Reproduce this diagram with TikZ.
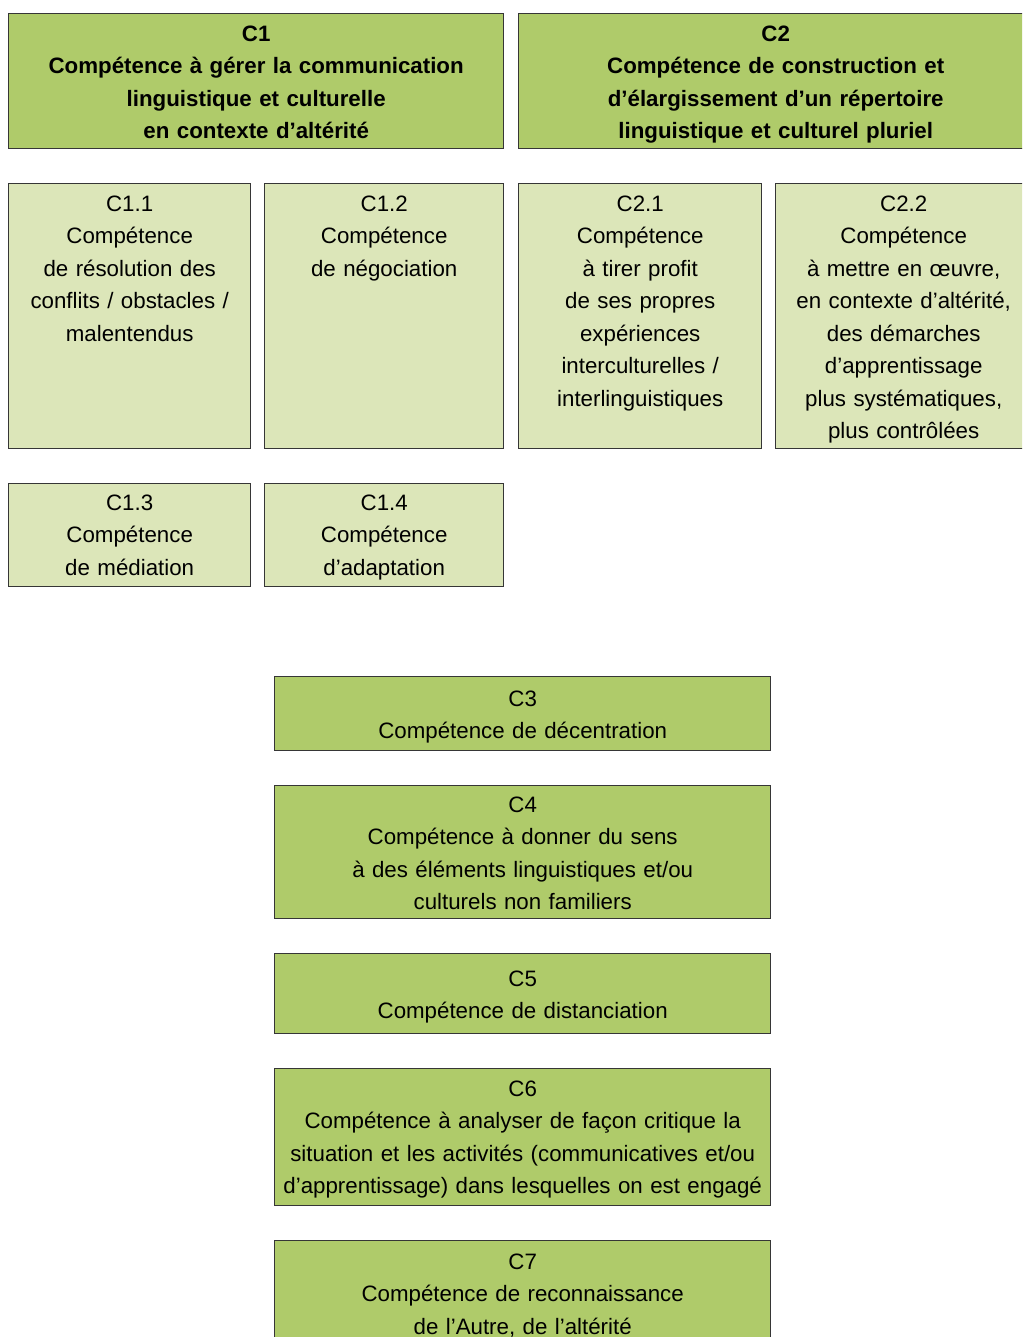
\documentclass[tikz,border=0pt]{standalone}
\usepackage{fontspec}
\setmainfont{Liberation Sans}
\usepackage{xcolor}
\definecolor{comp-main}{HTML}{AFCB6A}
\definecolor{comp-light}{HTML}{DCE6B9}
\definecolor{comp-line}{HTML}{363636}
\tikzset{
  compbox/.style={draw=comp-line, line width=1.4pt, inner sep=0pt, anchor=north west,
    align=center, font=\fontsize{22.3}{32.5}\selectfont},
  mainbox/.style={compbox, fill=comp-main},
  headbox/.style={mainbox, font=\fontsize{22.3}{32.5}\selectfont\bfseries},
  subbox/.style={compbox, fill=comp-light},
}

\begin{document}
\begin{tikzpicture}[x=1pt, y=-1pt]

    % Frame
    \useasboundingbox (0, 0) rectangle (1022, 1337);
    \clip (0, 0) rectangle (1022, 1337);

    % Main competences
    \node[headbox, text width=495pt, text height=27.5pt, text depth=107.5pt] (c1) at (8, 13)
      {C1\\Compétence à gérer la communication\\linguistique et culturelle\\en contexte d’altérité};
    \node[headbox, text width=514pt, text height=27.5pt, text depth=107.5pt] (c2) at (518, 13)
      {C2\\Compétence de construction et\\d’élargissement d’un répertoire\\linguistique et culturel pluriel};

    % Sub-competences
    \node[subbox, text width=242pt, text height=27.5pt, text depth=237.5pt] (c11) at (8, 183)
      {C1.1\\Compétence\\de résolution des\\conflits / obstacles /\\malentendus};
    \node[subbox, text width=239pt, text height=27.5pt, text depth=237.5pt] (c12) at (264, 183)
      {C1.2\\Compétence\\de négociation};
    \node[subbox, text width=243pt, text height=27.5pt, text depth=237.5pt] (c21) at (518, 183)
      {C2.1\\Compétence\\à tirer profit\\de ses propres\\expériences\\interculturelles /\\interlinguistiques};
    \node[subbox, text width=256pt, text height=27.5pt, text depth=237.5pt] (c22) at (775, 183)
      {C2.2\\Compétence\\à mettre en œuvre,\\en contexte d’altérité,\\des démarches\\d’apprentissage\\plus systématiques,\\plus contrôlées};
    \node[subbox, text width=242pt, text height=26.5pt, text depth=76.5pt] (c13) at (8, 483)
      {C1.3\\Compétence\\de médiation};
    \node[subbox, text width=239pt, text height=26.5pt, text depth=76.5pt] (c14) at (264, 483)
      {C1.4\\Compétence\\d’adaptation};

    % Other competences
    \node[mainbox, text width=496pt, text height=29.5pt, text depth=44.5pt] (c3) at (274, 676)
      {C3\\Compétence de décentration};
    \node[mainbox, text width=496pt, text height=26.5pt, text depth=106.5pt] (c4) at (274, 785)
      {C4\\Compétence à donner du sens\\à des éléments linguistiques et/ou\\culturels non familiers};
    \node[mainbox, text width=496pt, text height=32.5pt, text depth=47.5pt] (c5) at (274, 953)
      {C5\\Compétence de distanciation};
    \node[mainbox, text width=496pt, text height=27.5pt, text depth=109.5pt] (c6) at (274, 1068)
      {C6\\Compétence à analyser de façon critique la\\situation et les activités (communicatives et/ou\\d’apprentissage) dans lesquelles on est engagé};
    \node[mainbox, text width=496pt, text height=28.5pt, text depth=91.5pt] (c7) at (274, 1240)
      {C7\\Compétence de reconnaissance\\de l’Autre, de l’altérité};

\end{tikzpicture}
\end{document}
